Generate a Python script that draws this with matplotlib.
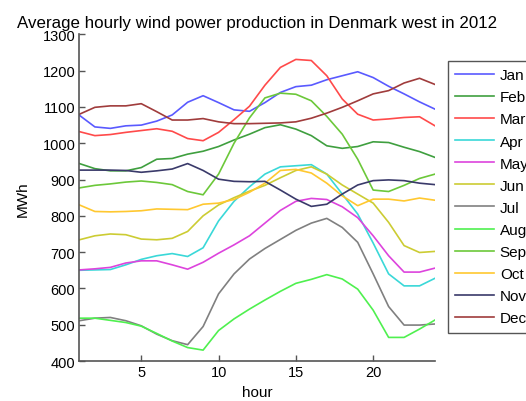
import matplotlib
matplotlib.use("Agg")
import matplotlib.pyplot as plt
import numpy as np

plt.rcParams['font.family'] = ['Liberation Sans', 'DejaVu Sans']

hours = list(range(1, 25))
months = ["Jan", "Feb", "Mar", "Apr", "May", "Jun",
          "Jul", "Aug", "Sep", "Oct", "Nov", "Dec"]

jan = [1077, 1045, 1041, 1048, 1050, 1061, 1078, 1113, 1131, 1112, 1092, 1088,
       1112, 1140, 1156, 1160, 1175, 1186, 1197, 1181, 1157, 1136, 1114, 1094]
feb = [944, 930, 924, 924, 933, 956, 958, 970, 978, 991, 1009, 1025,
       1043, 1051, 1039, 1021, 993, 986, 991, 1004, 1002, 989, 977, 961]
mar = [1032, 1021, 1024, 1030, 1035, 1040, 1033, 1013, 1007, 1030, 1065, 1102,
       1160, 1209, 1231, 1228, 1186, 1122, 1080, 1064, 1067, 1071, 1073, 1048]
apr = [650, 651, 652, 665, 680, 690, 696, 688, 712, 786, 840, 880,
       915, 935, 938, 941, 915, 860, 805, 725, 640, 607, 607, 628]
may = [651, 654, 658, 670, 676, 676, 665, 653, 672, 697, 720, 745,
       780, 815, 840, 848, 845, 825, 795, 745, 690, 645, 645, 656]
jun = [734, 745, 750, 748, 736, 734, 738, 757, 800, 830, 850, 868,
       884, 905, 925, 935, 915, 885, 860, 835, 782, 718, 699, 702]
jul = [511, 518, 520, 511, 497, 474, 456, 445, 495, 585, 640, 681,
       710, 735, 760, 780, 793, 768, 727, 640, 550, 499, 499, 502]
aug = [518, 518, 512, 506, 496, 476, 455, 437, 430, 484, 516, 543,
       568, 592, 614, 625, 638, 626, 598, 540, 465, 465, 488, 513]
sep = [877, 884, 888, 893, 896, 892, 886, 867, 858, 915, 1000, 1070,
       1125, 1138, 1135, 1117, 1074, 1025, 956, 871, 867, 884, 903, 915]
oct_ = [830, 812, 811, 812, 814, 819, 818, 817, 832, 835, 845, 865,
        890, 925, 928, 918, 890, 855, 828, 846, 846, 841, 849, 843]
nov = [926, 926, 926, 925, 920, 924, 929, 944, 925, 901, 895, 894,
       895, 871, 846, 826, 832, 860, 885, 897, 899, 897, 890, 886]
dec = [1080, 1099, 1103, 1103, 1109, 1087, 1064, 1064, 1068, 1059, 1054, 1054,
       1055, 1056, 1059, 1069, 1083, 1099, 1117, 1136, 1145, 1166, 1179, 1162]

series = [jan, feb, mar, apr, may, jun, jul, aug, sep, oct_, nov, dec]
colors = ["#5a5aff", "#3f9f3f", "#ff4a4a", "#3ad8d8", "#dd44dd", "#cccc33",
          "#808080", "#4ff04f", "#6cc83a", "#ffc830", "#3a3a6a", "#a03c3c"]

fig = plt.figure(figsize=(5.26, 4.02), dpi=100)
ax = fig.add_axes([0.151, 0.0995, 0.676, 0.8125])

for vals, name, c in zip(series, months, colors):
    ax.plot(hours, vals, color=c, lw=1.2, label=name)

ax.set_xlim(1, 24)
ax.set_ylim(400, 1300)
ax.set_xticks([5, 10, 15, 20])
ax.set_yticks(range(400, 1301, 100))
for s in ("top", "right"):
    ax.spines[s].set_visible(False)
for s in ("left", "bottom"):
    ax.spines[s].set_color("#555555")
    ax.spines[s].set_linewidth(1.2)
ax.tick_params(direction="in", length=4, width=1, color="#555555",
               labelsize=10.5, labelcolor="black", pad=3)

ax.set_xlabel("hour", fontsize=11, labelpad=4)
ax.set_ylabel("MWh", fontsize=11, labelpad=9)
ax.set_title("Average hourly wind power production in Denmark west in 2012",
             fontsize=12.2, pad=5)

# legend sits to the right of the axes and runs past the figure edge
leg = fig.legend(loc="upper left", bbox_to_anchor=(0.852, 0.846),
                 borderaxespad=0.0,
                 fontsize=11, handlelength=2.55, handletextpad=0.35,
                 labelspacing=0.53, borderpad=0.48, fancybox=False,
                 framealpha=1, edgecolor="#555555")
leg.get_frame().set_linewidth(1.0)

fig.savefig("out.png", dpi=100)
